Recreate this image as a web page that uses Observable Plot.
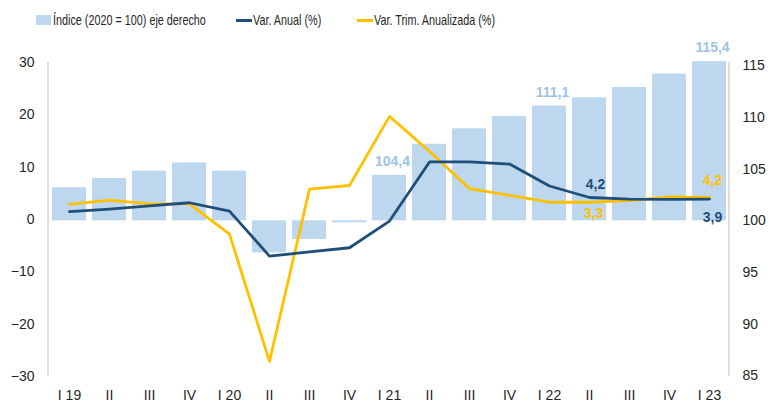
<!DOCTYPE html>
<html><head><meta charset="utf-8">
<script src="https://cdn.jsdelivr.net/npm/d3@7"></script>
<script src="https://cdn.jsdelivr.net/npm/@observablehq/plot@0.6"></script>
<style>
body{margin:0;background:#fff;font-family:"Liberation Sans",Arial,sans-serif;}
#legend{position:relative;height:40px;width:771px;font-family:"Liberation Sans",Arial,sans-serif;font-size:14.5px;color:#262626;}
.item{position:absolute;top:12px;height:16px;display:flex;align-items:center;white-space:nowrap;}
.sq{width:15px;height:10px;margin-right:2px;flex:none;}
.ln{width:16px;height:3px;margin-right:1px;flex:none;}
.tx{display:inline-block;transform:scaleX(0.745);transform-origin:0 50%;}
</style></head>
<body>
<div id="legend"></div>
<div id="chart"></div>
<script>
const quarters = ["2019-I","2019-II","2019-III","2019-IV","2020-I","2020-II","2020-III","2020-IV","2021-I","2021-II","2021-III","2021-IV","2022-I","2022-II","2022-III","2022-IV","2023-I"];
const tickLabels = ["I 19","II","III","IV","I 20","II","III","IV","I 21","II","III","IV","I 22","II","III","IV","I 23"];
const indice = [103.2,104.1,104.8,105.6,104.8,96.9,98.2,99.8,104.4,107.4,108.9,110.1,111.1,111.9,112.9,114.2,115.4];
const varAnual = [1.5,2.0,2.6,3.2,1.6,-7.0,-6.2,-5.4,-0.3,11.0,11.0,10.6,6.4,4.2,3.9,3.85,3.9];
const varTrim = [2.9,3.7,3.0,3.0,-2.8,-27.1,5.8,6.5,19.7,13.0,5.9,4.6,3.3,3.3,3.6,4.3,4.2];
const leftTicks = [-30,-20,-10,0,10,20,30];
const rightTicks = [85,90,95,100,105,110,115];
const barLabelAt = ["2021-I","2022-I","2023-I"];
const anualLabelAbove = ["2022-II"], anualLabelBelow = ["2023-I"];
const trimLabelAbove = ["2023-I"], trimLabelBelow = ["2022-II"];
const seriesNames = ["Índice (2020 = 100) eje derecho","Var. Anual (%)","Var. Trim. Anualizada (%)"];
const colors = {bar:"#BDD7EE", barLabel:"#9DC3E6", anual:"#1F4E79", trim:"#FFC000"};

// right axis (index) expressed in left-axis units, as in the original dual-axis layout
const toLeft = v => (v - 100) * 1.975 - 0.25;

// legend
const legend = document.getElementById("legend");
const legendItems = [
  {name: seriesNames[0], cls:"sq", color: colors.bar, left: 36},
  {name: seriesNames[1], cls:"ln", color: colors.anual, left: 236},
  {name: seriesNames[2], cls:"ln", color: colors.trim, left: 357}
];
for (const it of legendItems) {
  const d = document.createElement("div");
  d.className = "item"; d.style.left = it.left + "px";
  const s = document.createElement("span"); s.className = it.cls; s.style.background = it.color;
  d.appendChild(s);
  const t = document.createElement("span"); t.className = "tx"; t.textContent = it.name;
  d.appendChild(t);
  legend.appendChild(d);
}

const rows = quarters.map((q, i) => ({q, label: tickLabels[i], idx: indice[i], base: toLeft(100), bar: toLeft(indice[i]), anual: varAnual[i], trim: varTrim[i]}));
const fmt = d => d.toFixed(1).replace(".", ",");

const axisLines = (index, scales, values, dims) => {
  const g = d3.create("svg:g").attr("stroke", "#c8c8c8").attr("stroke-width", 1.2);
  const x0 = dims.marginLeft, x1 = dims.width - dims.marginRight;
  const y0 = dims.marginTop, y1 = dims.height - dims.marginBottom;
  g.append("line").attr("x1", x0).attr("x2", x0).attr("y1", y0).attr("y2", y1);
  g.append("line").attr("x1", x1).attr("x2", x1).attr("y1", y0).attr("y2", y1);
  return g.node();
};

const chart = Plot.plot({
  width: 771, height: 364,
  marginLeft: 48, marginRight: 42, marginTop: 22, marginBottom: 28,
  style: {fontSize: "14px", fontFamily: "'Liberation Sans', Arial, sans-serif", color: "#262626", background: "#fff", overflow: "visible"},
  x: {type: "band", domain: quarters, paddingInner: 0.15, paddingOuter: 0.075},
  y: {domain: [-30, 30]},
  marks: [
    Plot.barY(rows, {x: "q", y1: "base", y2: "bar", fill: colors.bar}),
    axisLines,
    Plot.line(rows, {x: "q", y: "trim", stroke: colors.trim, strokeWidth: 2.8}),
    Plot.line(rows, {x: "q", y: "anual", stroke: colors.anual, strokeWidth: 2.8}),
    Plot.text(rows.filter(d => barLabelAt.includes(d.q)), {x: "q", y: "bar", text: d => fmt(d.idx), dy: -14, dx: 3, fill: colors.barLabel, fontWeight: "bold", fontSize: 14}),
    Plot.text(rows.filter(d => anualLabelAbove.includes(d.q)), {x: "q", y: "anual", text: d => fmt(d.anual), dy: -13, dx: 6, fill: colors.anual, fontWeight: "bold", fontSize: 14}),
    Plot.text(rows.filter(d => anualLabelBelow.includes(d.q)), {x: "q", y: "anual", text: d => fmt(d.anual), dy: 18, dx: 3, fill: colors.anual, fontWeight: "bold", fontSize: 14}),
    Plot.text(rows.filter(d => trimLabelAbove.includes(d.q)), {x: "q", y: "trim", text: d => fmt(d.trim), dy: -17, dx: 3, fill: colors.trim, fontWeight: "bold", fontSize: 14}),
    Plot.text(rows.filter(d => trimLabelBelow.includes(d.q)), {x: "q", y: "trim", text: d => fmt(d.trim), dy: 11, dx: 4, fill: colors.trim, fontWeight: "bold", fontSize: 14}),
    Plot.axisX({tickSize: 0, tickPadding: 14, tickFormat: (d) => tickLabels[quarters.indexOf(d)], label: null, fontSize: 14}),
    Plot.axisY({anchor: "left", ticks: leftTicks, tickSize: 0, tickPadding: 14, label: null, fontSize: 14}),
    Plot.text(rightTicks, {x: null, y: d => toLeft(d), text: d => String(d), frameAnchor: "right", dx: 13, textAnchor: "start", fill: "#262626", fontSize: 14})
  ]
});
document.getElementById("chart").appendChild(chart);
</script>
</body></html>
